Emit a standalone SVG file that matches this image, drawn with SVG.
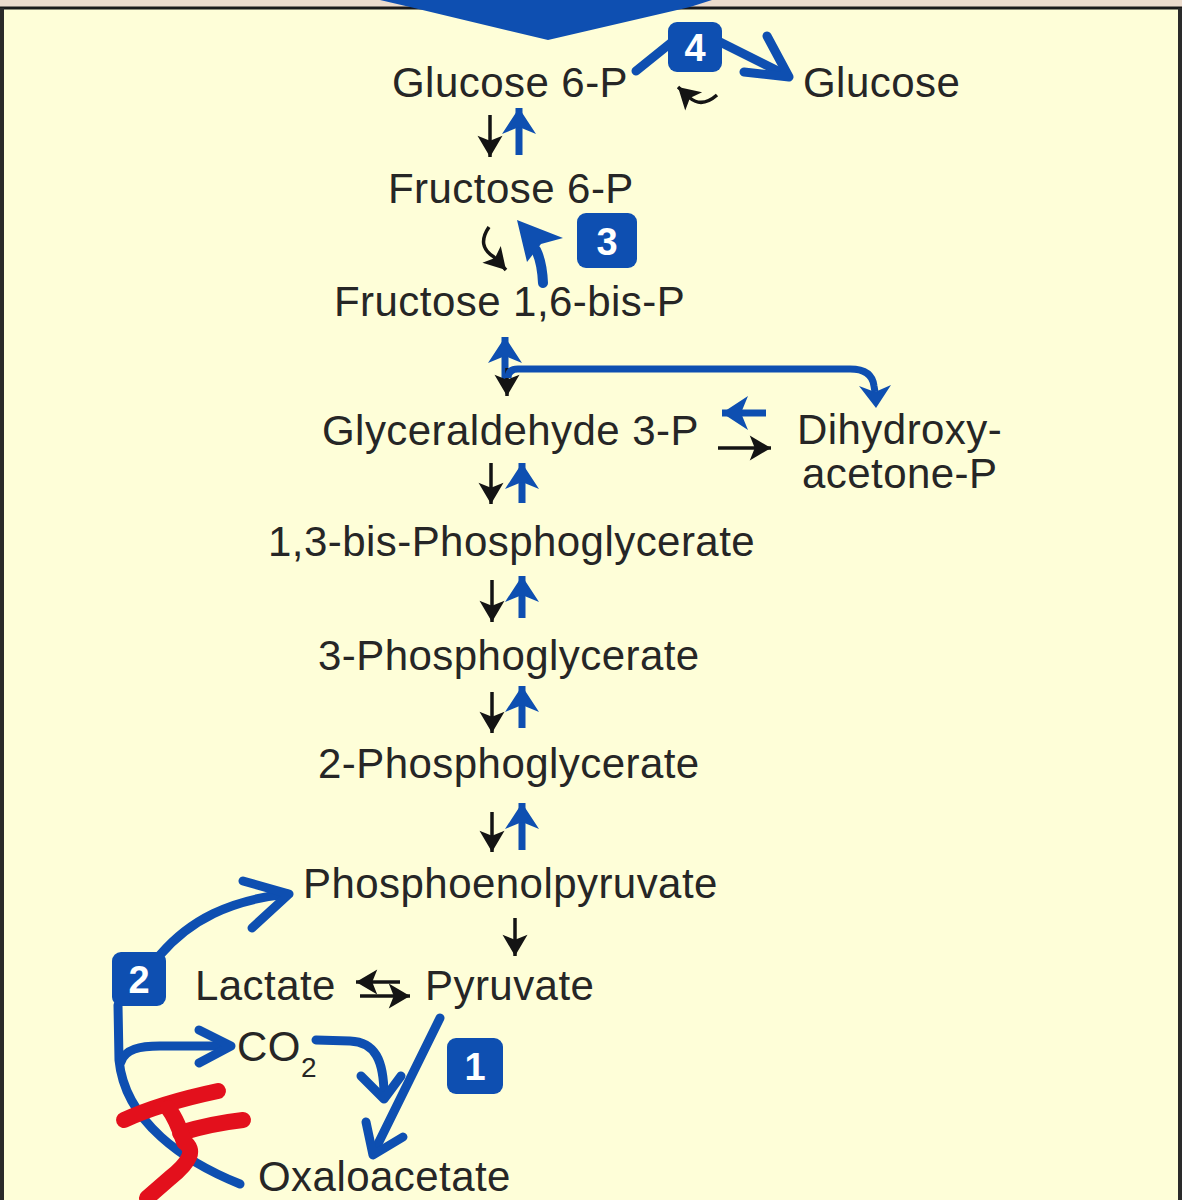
<svg xmlns="http://www.w3.org/2000/svg" width="1182" height="1200" viewBox="0 0 1182 1200">
<defs>
<style>
.t{font-family:"Liberation Sans",Arial,sans-serif;font-size:42px;fill:#262626;letter-spacing:0.45px}
.n{font-family:"Liberation Sans",Arial,sans-serif;font-size:38px;font-weight:bold;fill:#ffffff;text-anchor:middle}
.box{fill:#0e4fb1}
.bk{stroke:#141414;stroke-width:3.5;fill:none}
.bl{stroke:#0e4fb1;stroke-width:7;fill:none}
.blt{stroke:#0e4fb1;stroke-width:9;fill:none;stroke-linecap:round;stroke-linejoin:round}
.red{stroke:#e3101c;stroke-width:16;fill:none;stroke-linecap:round;stroke-linejoin:round}
</style>
<marker id="hk" markerUnits="userSpaceOnUse" markerWidth="30" markerHeight="30" viewBox="-20 -12 22 24" refX="0" refY="0" orient="auto">
<path d="M0,0 L-17,-10 L-13,0 L-17,10 Z" fill="#141414"/>
</marker>
<marker id="hb" markerUnits="userSpaceOnUse" markerWidth="40" markerHeight="40" viewBox="-28 -20 30 40" refX="0" refY="0" orient="auto">
<path d="M0,0 L-26,-17 L-19,0 L-26,17 Z" fill="#0e4fb1"/>
</marker>
</defs>
<rect x="0" y="0" width="1182" height="1200" fill="#fefed8"/>
<rect x="-20" y="-40" width="1222" height="48" rx="10" fill="#ecdccd" stroke="#1a1a1a" stroke-width="3"/>
<path d="M2,8 L2,1200 M1180,8 L1180,1200" stroke="#2a2a2a" stroke-width="4"/>
<polygon points="380,0 712,0 690,7 548,40 410,7" fill="#0e4fb1"/>

<g id="connectors">
<!-- G6P <-> F6P -->
<line class="bk" x1="490" y1="115" x2="490" y2="157" marker-end="url(#hk)"/>
<line class="bl" x1="519" y1="155" x2="519" y2="108" marker-end="url(#hb)"/>
<!-- F6P <-> F16BP -->
<path class="bk" d="M489,227 Q476,246 494,257 L506,270" marker-end="url(#hk)"/>
<path d="M543,283 Q542,262 536,250" stroke="#0e4fb1" stroke-width="10" fill="none" stroke-linecap="round"/>
<polygon points="517,220 563,238 541,244 527,262" fill="#0e4fb1"/>
<!-- step 4 -->
<line class="blt" x1="636" y1="71" x2="672" y2="42"/>
<line class="blt" x1="720" y1="42" x2="786" y2="75"/>
<polyline class="blt" points="767,36 789,77 744,72"/>
<path class="bk" d="M717,95 Q702,108 690,98 L678,87" marker-end="url(#hk)"/>
<!-- F16BP <-> G3P / DHAP -->
<line class="bl" x1="505" y1="383" x2="505" y2="337" marker-end="url(#hb)"/>
<line class="bk" x1="507" y1="368" x2="507" y2="396" marker-end="url(#hk)"/>
<path class="bl" d="M508,378 Q508,369 518,369 L850,369 Q872,369 874,386 L875,392"/>
<polygon points="876,408 859,386 875,392 891,385" fill="#0e4fb1"/>
<!-- G3P <-> DHAP -->
<line class="bl" x1="766" y1="413" x2="722" y2="413" stroke-width="5" marker-end="url(#hb)"/>
<line class="bk" x1="718" y1="448" x2="771" y2="448" stroke-width="4.5" marker-end="url(#hk)"/>
<!-- G3P <-> 1,3BPG -->
<line class="bk" x1="491" y1="463" x2="491" y2="504" marker-end="url(#hk)"/>
<line class="bl" x1="522" y1="503" x2="522" y2="463" marker-end="url(#hb)"/>
<!-- 1,3BPG <-> 3PG -->
<line class="bk" x1="492" y1="580" x2="492" y2="622" marker-end="url(#hk)"/>
<line class="bl" x1="522" y1="618" x2="522" y2="576" marker-end="url(#hb)"/>
<!-- 3PG <-> 2PG -->
<line class="bk" x1="492" y1="692" x2="492" y2="733" marker-end="url(#hk)"/>
<line class="bl" x1="522" y1="728" x2="522" y2="686" marker-end="url(#hb)"/>
<!-- 2PG <-> PEP -->
<line class="bk" x1="492" y1="812" x2="492" y2="852" marker-end="url(#hk)"/>
<line class="bl" x1="522" y1="850" x2="522" y2="803" marker-end="url(#hb)"/>
<!-- PEP -> Pyruvate -->
<line class="bk" x1="515" y1="918" x2="515" y2="956" marker-end="url(#hk)"/>
<!-- Lactate <-> Pyruvate -->
<line class="bk" x1="400" y1="982" x2="356" y2="982" marker-end="url(#hk)"/>
<line class="bk" x1="360" y1="996" x2="410" y2="996" marker-end="url(#hk)"/>
<!-- bottom blue -->
<path class="blt" d="M240,1184 C185,1162 125,1122 119,1060 L118,1005"/>
<path class="blt" d="M160,955 C190,920 230,900 287,894"/>
<polyline class="blt" points="243,881 289,894 252,928"/>
<path class="blt" d="M121,1062 C125,1049 140,1046 160,1046 L228,1046"/>
<polyline class="blt" points="199,1030 231,1046 199,1063"/>
<path class="blt" d="M316,1040 L350,1041 C375,1042 384,1060 384,1096"/>
<polyline class="blt" points="361,1076 384,1099 401,1076"/>
<line class="blt" x1="440" y1="1018" x2="374" y2="1152"/>
<polyline class="blt" points="366,1122 373,1155 403,1137"/>
</g>

<g id="n-g6p"><text class="t" x="392" y="97">Glucose 6-P</text></g>
<g id="n-glucose"><text class="t" x="803" y="97">Glucose</text></g>
<g id="n-f6p"><text class="t" x="388" y="203">Fructose 6-P</text></g>
<g id="n-f16bp"><text class="t" x="334" y="316">Fructose 1,6-bis-P</text></g>
<g id="n-g3p"><text class="t" x="322" y="445">Glyceraldehyde 3-P</text></g>
<g id="n-dhap"><text class="t" x="797" y="444">Dihydroxy-</text><text class="t" x="802" y="488">acetone-P</text></g>
<g id="n-13bpg"><text class="t" x="268" y="556">1,3-bis-Phosphoglycerate</text></g>
<g id="n-3pg"><text class="t" x="318" y="670">3-Phosphoglycerate</text></g>
<g id="n-2pg"><text class="t" x="318" y="778">2-Phosphoglycerate</text></g>
<g id="n-pep"><text class="t" x="303" y="898">Phosphoenolpyruvate</text></g>
<g id="n-lactate"><text class="t" x="195" y="1000">Lactate</text></g>
<g id="n-pyruvate"><text class="t" x="425" y="1000">Pyruvate</text></g>
<g id="n-co2"><text class="t" x="237" y="1061">CO<tspan font-size="28" dy="16">2</tspan></text></g>
<g id="n-oaa"><text class="t" x="258" y="1191">Oxaloacetate</text></g>

<g id="step4"><rect class="box" x="668" y="22" width="54" height="50" rx="9"/><text class="n" x="695" y="61">4</text></g>
<g id="step3"><rect class="box" x="577" y="213" width="60" height="55" rx="9"/><text class="n" x="607" y="255">3</text></g>
<g id="step2"><rect class="box" x="112" y="952" width="54" height="54" rx="9"/><text class="n" x="139" y="993">2</text></g>
<g id="step1"><rect class="box" x="447" y="1038" width="56" height="56" rx="9"/><text class="n" x="475" y="1080">1</text></g>

<g id="annotation">
<path class="red" d="M124,1120 C150,1108 185,1098 218,1091"/>
<path class="red" d="M180,1133 C200,1127 225,1122 243,1120"/>
<path class="red" d="M168,1108 C176,1118 180,1130 184,1142 C196,1150 190,1162 170,1178 L147,1198"/>
</g>
</svg>
